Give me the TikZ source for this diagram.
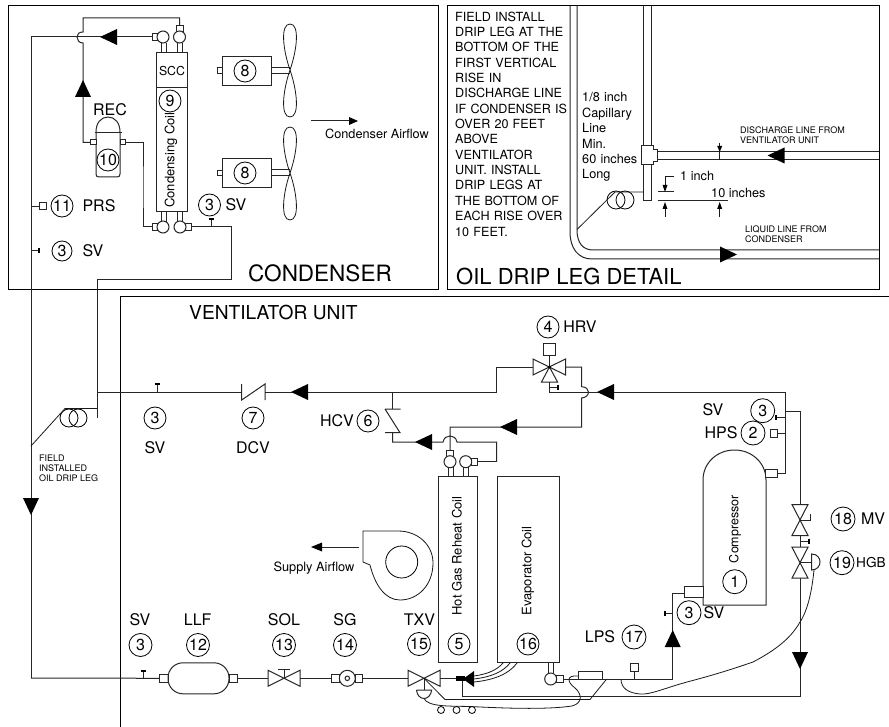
\documentclass[tikz,border=0pt]{standalone}
\usepackage{fontspec}
\setmainfont{TeX Gyre Heros}
\newcommand{\fsz}[1]{\fontsize{#1}{#1}\selectfont}
\tikzset{
  pipe/.style={line width=1pt,draw=black!85,line join=miter},
  frame/.style={line width=1pt,draw=black},
  thin/.style={line width=0.8pt,draw=black!90},
  num/.style={draw=black,line width=0.8pt,circle,inner sep=0pt,minimum size=22pt,font=\fsz{16}},
  lab/.style={inner sep=0pt,font=\fsz{16}},
  small/.style={inner sep=0pt,font=\fsz{9},align=left,anchor=west},
  mid/.style={inner sep=0pt,font=\fsz{12.7},align=left,anchor=west},
  big/.style={inner sep=0pt,font=\fsz{22},anchor=west},
  coilt/.style={inner sep=0pt,font=\fsz{13},rotate=90},
  port/.style={draw=black!85,line width=1pt,fill=white,inner sep=0pt,minimum width=6pt,minimum height=7pt},
  portv/.style={draw=black!85,line width=1pt,fill=white,inner sep=0pt,minimum width=7pt,minimum height=6pt},
  ball/.style={draw=black!85,line width=1pt,fill=white,circle,inner sep=0pt,minimum size=12pt},
  box/.style={draw=black!85,line width=1pt,inner sep=0pt},
}
\newcommand{\arrL}[2]{\fill (#1,#2) -- ++(17,-8) -- ++(0,16) -- cycle;}
\newcommand{\arrR}[2]{\fill (#1,#2) -- ++(-17,-8) -- ++(0,16) -- cycle;}
\newcommand{\arrU}[2]{\fill (#1,#2) -- ++(-8,17) -- ++(16,0) -- cycle;}
\newcommand{\arrD}[2]{\fill (#1,#2) -- ++(-8,-17) -- ++(16,0) -- cycle;}
\newcommand{\bowH}[2]{\draw[pipe,fill=white] (#1-16,#2-8) -- (#1+16,#2+8) -- (#1+16,#2-8) -- (#1-16,#2+8) -- cycle;}
\newcommand{\bowV}[2]{\draw[pipe,fill=white] (#1-8,#2-15.5) -- (#1+8,#2+15.5) -- (#1-8,#2+15.5) -- (#1+8,#2-15.5) -- cycle;}
\newcommand{\tube}[3]{\draw[pipe] (#1-2.5,#2) -- (#1-2.5,#3) (#1+2.5,#2) -- (#1+2.5,#3);}
\newcommand{\tickV}[3]{\draw[pipe] (#1,#2) -- (#1,#3); \draw[line width=1.8pt] (#1-2.5,#3) -- (#1+2.5,#3);}
\newcommand{\tickH}[3]{\draw[pipe] (#1,#3) -- (#2,#3); \draw[line width=1.8pt] (#2,#3-2.5) -- (#2,#3+2.5);}
\newcommand{\blades}[2]{\draw[thin] (#1,#2) .. controls (#1-7,#2-20) and (#1-10,#2-46) .. (#1,#2-46) .. controls (#1+10,#2-46) and (#1+7,#2-20) .. (#1,#2) .. controls (#1-7,#2+20) and (#1-10,#2+47) .. (#1,#2+47) .. controls (#1+10,#2+47) and (#1+7,#2+20) .. (#1,#2);}
\begin{document}
\begin{tikzpicture}[x=1pt,y=-1pt]
\useasboundingbox (0,0) rectangle (889,727);
% ---------- frames
\draw[frame] (8,6) rectangle (438,290);
\draw[frame] (447,6) rectangle (879,290);
\draw[frame] (889,297) -- (120,297) -- (120,727);
\node[big,font=\fsz{22.5}] (tCond) at (248,273) {CONDENSER};
\node[big] (tOil) at (456,276) {OIL DRIP LEG DETAIL};
\node[big,font=\fsz{19.2}] (tVent) at (189,313) {VENTILATOR UNIT};

% ---------- condensing coil
\node[box,minimum width=31pt,minimum height=159pt] (coil) at (171.5,132.5) {};
\draw[pipe] (156,88) -- (187,88);
\node[inner sep=0pt,font=\fsz{12.3}] (tSCC) at (172,71) {SCC};
\node[num] (n9) at (170,101) {9};
\node[coilt] (tCC) at (171,160) {Condensing Coil};
\tube{163.5}{43}{53}
\tube{179.5}{43}{53}
\tube{163.5}{212}{222}
\tube{179.5}{212}{222}
\node[port] (pTL) at (155,37) {};
\node[ball] (bTL) at (163,37) {};
\node[portv] (pTR) at (179.5,29) {};
\node[ball] (bTR) at (179.5,37) {};
\node[port] (pBL) at (155,227) {};
\node[ball] (bBL) at (163,227) {};
\node[port] (pBR) at (188,227) {};
\node[ball] (bBR) at (180,227) {};
% ---------- receiver
\draw[pipe] (96,132) .. controls (96,123) and (101,117) .. (108,117) .. controls (115,117) and (120,123) .. (120,132) -- (120,174) .. controls (120,176) and (119,177) .. (117,177) -- (99,177) .. controls (97,177) and (96,176) .. (96,174) -- cycle;
\draw[line width=1.8pt,black!85] (95,132.5) -- (122,132.5);
\node[port,minimum width=5.5pt,minimum height=5pt] (recL) at (93.5,142.5) {};
\node[port,minimum width=5.5pt,minimum height=5pt] (recR) at (123,142.5) {};
\node[num] (n10) at (108,160) {10};
\node[lab] (tREC) at (110,110) {REC};
% ---------- condenser piping
\coordinate (jTop) at (83,18);
\coordinate (jA) at (83,32);
\coordinate (jB) at (83,43);
\coordinate (lineL) at (31,37);
\coordinate (lineLB) at (31,678);
\draw[pipe] (pTR.north) |- (jTop) -- (jA) .. controls (79,32) and (77,34) .. (77,37) .. controls (77,40) and (79,43) .. (jB) |- (recL.west);
\draw[pipe] (pTL.west) -- (lineL) -- (lineLB);
\draw[pipe] (recR.east) -| (143,190) |- (pBL.west);
\coordinate (d1) at (231,280);
\coordinate (d2) at (97,280);
\coordinate (dTee) at (97,392);
\coordinate (dEnd) at (97,418);
\draw[pipe] (pBR.east) -| (d1) -- (d2) -- (dEnd);
\arrL{100}{37}
\arrU{83}{80}
\tickV{211}{227}{219}
\node[num] (n3a) at (209.5,205) {3};
\node[lab] (tSVa) at (236,205) {SV};
% PRS, SV on liquid line
\node[box,minimum width=7pt,minimum height=7pt] (prs) at (42.5,206.5) {};
\draw[pipe] (31,206.5) -- (prs.west);
\node[num] (n11) at (62,206) {11};
\node[lab] (tPRS) at (99,206) {PRS};
\tickH{31}{39}{251}
\node[num,minimum size=20pt] (n3b) at (62,251) {3};
\node[lab] (tSVb) at (93,251) {SV};
% motors and fans
\node[box,minimum width=49pt,minimum height=29pt] (mot1) at (246.5,71) {};
\node[box,minimum width=4.5pt,minimum height=5.5pt] (mot1p) at (219.75,70.5) {};
\node[num] (n8a) at (245,71) {8};
\draw[pipe] (271,67.5) -- (290,67.5) (271,73.5) -- (290,73.5);
\blades{290}{70}
\node[box,minimum width=49pt,minimum height=29pt] (mot2) at (246.5,173) {};
\node[box,minimum width=4.5pt,minimum height=5.5pt] (mot2p) at (219.75,173) {};
\node[num] (n8b) at (245,173) {8};
\draw[pipe] (271,170) -- (290,170) (271,176) -- (290,176);
\blades{290}{173}
\coordinate (cfA) at (311,121);
\coordinate (cfB) at (350,121);
\draw[pipe] (cfA) -- (cfB);
\fill (358,121) -- (349,117) -- (349,125) -- cycle;
\node[inner sep=0pt,font=\fsz{12.7}] (tCA) at (377,134) {Condenser Airflow};

% ---------- oil drip leg detail
\node[mid,anchor=north west,font=\fsz{12.6},text width=115pt,align=left] (tNote) at (455,11.5) {\baselineskip=15.35pt FIELD INSTALL\par DRIP LEG AT THE\par BOTTOM OF THE\par FIRST VERTICAL\par RISE IN\par DISCHARGE LINE\par IF CONDENSER IS\par OVER 20 FEET\par ABOVE\par VENTILATOR\par UNIT. INSTALL\par DRIP LEGS AT\par THE BOTTOM OF\par EACH RISE OVER\par 10 FEET.\par};
\node[mid,anchor=north west,text width=70pt] (tCap) at (582,92.5) {\baselineskip=15.4pt 1/8 inch\par Capillary\par Line\par Min.\par 60 inches\par Long\par};
\draw[pipe] (570,6) -- (570,232) .. controls (570,248) and (578,259) .. (592,259) -- (879,259);
\draw[pipe] (577,6) -- (577,230) .. controls (577,243) and (583,250) .. (593,250) -- (879,250);
\arrR{737}{254.5}
\draw[pipe] (643.7,6) -- (643.7,146) (651.7,6) -- (651.7,146);
\draw[pipe] (643.7,165) -- (643.7,201) -- (651.7,201) -- (651.7,165);
\draw[pipe] (641.7,146) -- (653,146) -- (653,150) -- (657.7,150) -- (657.7,162) -- (653,162) -- (653,165) -- (641.7,165) -- cycle;
\draw[pipe] (657.7,151.5) -- (879,151.5) (657.7,160) -- (879,160);
\arrL{767.5}{155.5}
\draw[pipe] (658,192) -- (674,192) (658,201) -- (728,201);
\draw[thin] (674,176.5) -- (665,176.5) -- (665,188);
\fill (665,192) -- (662.5,185) -- (667.5,185) -- cycle;
\draw[thin] (665,217) -- (665,207);
\fill (665,202) -- (662.5,209) -- (667.5,209) -- cycle;
\draw[thin] (719.7,143) -- (719.7,148);
\fill (719.7,152) -- (717.2,146) -- (722.2,146) -- cycle;
\draw[thin] (719.7,217) -- (719.7,207);
\fill (719.7,202) -- (717.2,209) -- (722.2,209) -- cycle;
\draw[thin] (719.7,152) -- (719.7,160);
\node[mid] (t1in) at (680,176) {1 inch};
\node[mid] (t10in) at (711,193) {10 inches};
\node[small] (tDis) at (740,135) {DISCHARGE LINE FROM\\[1.2pt]VENTILATOR UNIT};
\node[small] (tLiq) at (745,234) {LIQUID LINE FROM\\[1.5pt]CONDENSER};
\node[draw=black,line width=0.8pt,circle,inner sep=0pt,minimum size=18pt] (dc1) at (616,200) {};
\node[draw=black,line width=0.8pt,circle,inner sep=0pt,minimum size=18pt] (dc2) at (625,200) {};
\coordinate (dl1) at (615,192);
\draw[thin] (643.7,192) -- (dl1) -- (577,229.5);

% ---------- field installed loop
\node[draw=black,line width=0.8pt,circle,inner sep=0pt,minimum size=18pt] (fc1) at (69,418) {};
\node[draw=black,line width=0.8pt,circle,inner sep=0pt,minimum size=18pt] (fc2) at (78,418) {};
\coordinate (fl1) at (65,408.5);
\draw[thin] (97,408.5) -- (fl1) -- (31,446);
\node[small] (tField) at (39,468) {FIELD\\[1.1pt]INSTALLED\\[0.9pt]OIL DRIP LEG};
\arrD{31}{515}

% ---------- discharge line, ventilator
\coordinate (t1) at (496.7,392);
\coordinate (t2) at (496.7,367);
\coordinate (hcvT) at (392.7,392);
\coordinate (hcvA) at (392.7,409);
\coordinate (hcvB) at (392.7,433);
\draw[pipe] (dTee) -- (241.7,392) (265,392) -- (t1) -- (t2) -- (533,367);
\tickV{157}{392}{384}
\node[num] (n3c) at (155,418) {3};
\node[lab] (tSVc) at (155,448) {SV};
\draw[pipe] (241.7,384) -- (241.7,400) -- (265,384) -- (265,400);
\node[num] (n7) at (253,418) {7};
\node[lab] (tDCV) at (253,448) {DCV};
\arrL{291}{392}
% HCV
\draw[pipe] (hcvT) -- (hcvA);
\draw[pipe] (385,409) -- (400.7,409) (385,409) -- (400,432.7) (385,432.7) -- (400.7,432.7);
\node[lab] (tHCV) at (337,421) {HCV};
\node[num] (n6) at (368,421) {6};
\draw[pipe] (hcvB) -- (392.7,442) -- (443,442) .. controls (444,437.5) and (447,436) .. (450,436) .. controls (453,436) and (456,437.5) .. (457,442) -- (496.7,442) -- (496.7,461.7);
\arrL{415}{442}
% HRV
\node[box,minimum width=12pt,minimum height=11pt] (hrvS) at (549.5,349.5) {};
\draw[pipe] (hrvS.south) -- (549.5,367);
\draw[pipe,fill=white] (533,359) -- (565.5,375) -- (565.5,359) -- (533,375) -- cycle;
\draw[pipe,fill=white] (549.5,367) -- (541.5,382) -- (557.5,382) -- cycle;
\fill (549.5,367) circle (1.6);
\node[num] (n4) at (548,327) {4};
\node[lab] (tHRV) at (580,327) {HRV};
\draw[pipe] (549.5,382) -- (549.5,392) -- (785,392) -- (785,473) -- (777,473);
\tickH{549.5}{558}{387}
\draw[pipe] (565.5,367) -- (581.7,367) -- (581.7,386.7) .. controls (586,387) and (588.5,389) .. (588.5,392) .. controls (588.5,395) and (586,397.5) .. (581.7,398) -- (581.7,427) -- (450,427) -- (450,451);
\arrL{597}{392}
\arrL{500}{427}
% hot gas coil and evaporator
\node[box,minimum width=39pt,minimum height=186pt] (hgc) at (457.5,569.7) {};
\node[box,minimum width=62pt,minimum height=186pt] (evap) at (528,569.7) {};
\tube{450.5}{467}{477}
\tube{466}{467}{477}
\node[portv] (hgcP) at (449.7,453.5) {};
\node[ball] (hgcA) at (450,461.7) {};
\node[port] (hgcR) at (474.3,461.7) {};
\node[ball] (hgcB) at (465.7,461.7) {};
\draw[pipe] (hgcR.east) -- (496.7,461.7);
\node[coilt] (tHG) at (457,556) {Hot Gas Reheat Coil};
\node[coilt] (tEC) at (528,571) {Evaporator Coil};
\node[num] (n5) at (459,644) {5};
\node[num] (n16) at (528,644) {16};
% fan
\draw[thin] (363,531) -- (398,531) .. controls (418,531) and (433,545) .. (433,563) .. controls (433,585) and (418,600) .. (400,600) .. controls (385,600) and (375,585) .. (370,565) -- (363,562) -- cycle;
\node[draw=black,line width=0.8pt,circle,inner sep=0pt,minimum size=32pt] (fanI) at (401.7,562) {};
\coordinate (saA) at (359,547);
\coordinate (saB) at (320,547);
\draw[pipe] (saA) -- (saB);
\fill (311,547) -- (322,542.5) -- (322,551.5) -- cycle;
\node[inner sep=0pt,font=\fsz{12.8}] (tSA) at (314,568) {Supply Airflow};
% compressor
\draw[pipe] (703,605) -- (703,480) .. controls (703,463) and (717,450) .. (734.5,450) .. controls (752,450) and (766,463) .. (766,480) -- (766,605) -- cycle;
\node[port,minimum width=12pt,minimum height=8pt] (cpT) at (771,473) {};
\node[port,minimum width=19pt,minimum height=11pt] (cpS) at (693.5,591.5) {};
\node[inner sep=0pt,font=\fsz{12.5},rotate=90] (tComp) at (735,529) {Compressor};
\node[num,minimum size=24pt] (n1) at (734.7,581.7) {1};
\node[num,minimum size=24pt] (n3d) at (762.7,410.7) {3};
\node[lab] (tSVd) at (713,410) {SV};
\node[lab] (tHPS) at (721,433) {HPS};
\node[num,minimum size=24pt] (n2) at (753,433) {2};
\node[box,minimum width=7pt,minimum height=8pt] (hps) at (773.5,433) {};
\draw[pipe] (hps.east) -- (785,433);
\tickH{785}{776}{417.7}
% MV + HGB line
\coordinate (mvA) at (785,411.3);
\coordinate (mvB) at (800,411.3);
\coordinate (mvC) at (800,696);
\coordinate (mvD) at (462.7,696);
\draw[pipe] (mvA) -- (mvB) -- (mvC) -- (mvD) -- (462.7,681);
\bowV{800}{520}
\bowV{800}{562.7}
\draw[pipe] (800,520) -- (810,520) -- (810,514);
\tickH{800}{809}{541}
\draw[pipe] (800,562.7) -- (811.7,562.7);
\draw[pipe] (811.7,554) .. controls (818,554) and (820,559) .. (820,562) .. controls (820,566) and (817,570) .. (811.7,570) -- cycle;
\node[num,minimum size=24pt] (n18) at (843,519) {18};
\node[lab] (tMV) at (873,519) {MV};
\node[num,minimum size=24pt] (n19) at (842,562.7) {19};
\node[lab,anchor=west,font=\fsz{13.6}] (tHGB) at (856,562.7) {HGB};
\arrD{800}{669}
\draw[thin] (814,570) .. controls (812,590) and (808,610) .. (800,622) .. controls (790,640) and (772,652) .. (753,662) .. controls (730,670) and (710,676) .. (687,682) .. controls (665,688) and (650,695) .. (640,694) .. controls (628,693) and (621,688) .. (621,679);

% ---------- liquid line along the bottom
\tickV{143}{678}{671}
\node[port,minimum width=8.5pt,minimum height=7.5pt] (llfL) at (163.75,678.3) {};
\node[draw=black!85,line width=1pt,rounded corners=15pt,inner sep=0pt,minimum width=61pt,minimum height=31pt] (llf) at (198.5,678.3) {};
\node[port,minimum width=8.5pt,minimum height=7.5pt] (llfR) at (233.25,678.3) {};
\draw[pipe] (lineLB) -- (llfL.west);
\coordinate (solL) at (268,678.3);
\coordinate (solR) at (300,678.3);
\draw[pipe] (llfR.east) -- (solL);
\bowH{284}{678.3}
\draw[pipe] (284,678.3) -- (284,669.5);
\draw[pipe] (278,669.5) -- (290,669.5);
\node[port,minimum width=7.5pt,minimum height=7.5pt] (sgL) at (335.5,678.3) {};
\node[port,minimum width=7.5pt,minimum height=7.5pt] (sgR) at (359,678.3) {};
\node[draw=black!85,line width=1pt,fill=white,circle,inner sep=0pt,minimum size=16pt] (sg) at (347.3,678.3) {};
\node[draw=black!85,line width=1pt,circle,inner sep=0pt,minimum size=4.5pt] (sgI) at (347.3,678.3) {};
\draw[pipe] (solR) -- (sgL.west);
\coordinate (txL) at (408,678.3);
\coordinate (txR) at (440,678.3);
\draw[pipe] (sgR.east) -- (txL);
\bowH{424}{678.3}
\draw[pipe] (txR) -- (456,678.3);
\node[lab] (tSVe) at (140,620) {SV};
\node[num,minimum size=23pt] (n3e) at (140.5,645) {3};
\node[lab] (tLLF) at (197.7,620) {LLF};
\node[num,minimum size=23pt] (n12) at (198,645) {12};
\node[lab] (tSOL) at (284,620) {SOL};
\node[num,minimum size=23pt] (n13) at (284,645) {13};
\node[lab] (tSG) at (345,620) {SG};
\node[num,minimum size=23pt] (n14) at (345,645) {14};
\node[lab] (tTXV) at (419.5,620) {TXV};
\node[num,minimum size=23pt] (n15) at (419,644) {15};
% TXV bulb, equaliser and capillary
\draw[pipe] (424,678.3) -- (424,690);
\draw[pipe] (416.5,690) -- (431.7,690) .. controls (431,695) and (428,698.5) .. (424,698.5) .. controls (420,698.5) and (417,695) .. (416.5,690);
\draw[thin] (424,678.3) -- (445,699.5) -- (590,699.5) -- (606.7,679);
\draw[thin] (578,676) .. controls (566,675) and (567,682) .. (575,688) .. controls (582,694) and (583,703) .. (572,706) .. controls (545,710) and (500,708) .. (470,706.5) .. controls (450,706) and (428,707) .. (424,698.5);
\node[draw=black,line width=0.8pt,fill=white,circle,inner sep=0pt,minimum size=7pt] (d1c) at (441,710) {};
\node[draw=black,line width=0.8pt,fill=white,circle,inner sep=0pt,minimum size=7pt] (d2c) at (456.5,710) {};
\node[draw=black,line width=0.8pt,fill=white,circle,inner sep=0pt,minimum size=7pt] (d3c) at (472,710) {};
% distributor
\fill (463,679) -- (474,671) -- (474,687) -- cycle;
\fill (456,676) rectangle (465,681);
\draw[thin] (474,676) .. controls (488,674) and (497,670) .. (503,663);
\draw[thin] (474,679) .. controls (491,677) and (503,672) .. (510,663);
\draw[thin] (474,682) .. controls (494,680) and (509,674) .. (517,663);
% evaporator outlet and suction line
\tube{550.7}{663}{673}
\node[port,minimum width=7pt,minimum height=7.5pt] (pSuc) at (559.5,679) {};
\node[ball] (bSuc) at (550.7,679) {};
\node[box,fill=white,minimum width=24pt,minimum height=8pt] (filt) at (590,675) {};
\coordinate (sA) at (672.7,679);
\coordinate (sB) at (672.7,593);
\draw[pipe] (pSuc.east) -- (sA) -- (sB) -- (cpS.west |- sB);
\arrU{672.7}{630}
\tickH{672.7}{665}{613}
\node[num,minimum size=24pt] (n3f) at (689,612.7) {3};
\node[lab] (tSVf) at (714,613) {SV};
\node[lab] (tLPS) at (600,637) {LPS};
\node[num,minimum size=24pt] (n17) at (634,637) {17};
\node[box,minimum width=8pt,minimum height=8pt] (lps) at (634.7,667) {};
\draw[pipe] (lps.south) -- (634.7,679);
\end{tikzpicture}
\end{document}
